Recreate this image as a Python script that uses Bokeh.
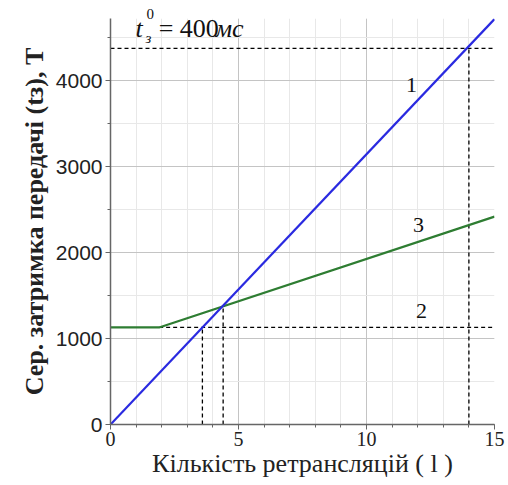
from bokeh.plotting import figure
from bokeh.models import Label, SingleIntervalTicker, Range1d
from bokeh.embed import file_html
from bokeh.resources import INLINE

# --- data ---
x_limits = [0, 15]
y_limits = [0, 4727]
line1_x = [0, 15]
line1_y = [0, 4720]
line3_x = [0, 1.9, 15]
line3_y = [1130, 1130, 2420]
line2_x = [1.9, 15]
line2_y = [1130, 1130]
t0_level = 4380          # t_з^0 = 400 мс level
t0_cross = 14.0          # crossing of line 1 with t0 level
cross12_x = 3.59         # line 1 meets line 2
cross12_y = 1130
cross13_x = 4.4          # line 1 meets line 3
cross13_y = 1385
curve_labels = ["1", "3", "2"]
curve_label_x = [11.76, 12.03, 12.15]
curve_label_y = [3958, 2317, 1327]

SERIF = "Liberation Serif"
SANS = "Liberation Sans"

p = figure(width=508, height=485, output_backend="svg", toolbar_location=None,
           x_range=Range1d(*x_limits), y_range=Range1d(*y_limits),
           min_border_left=110, min_border_right=14, min_border_top=18, min_border_bottom=61)
p.outline_line_color = None
p.background_fill_color = "white"
p.border_fill_color = "white"

# superscript "0" of t_з^0 sits above the frame: use the title slot
p.title.text = "0"
p.title.text_font = SERIF
p.title.text_font_size = "15px"
p.title.text_font_style = "normal"
p.title.text_color = "#111111"
p.title.align = "left"
p.title.offset = 36
p.title.standoff = 0

p.xaxis.ticker = SingleIntervalTicker(interval=5, num_minor_ticks=5)
p.yaxis.ticker = SingleIntervalTicker(interval=1000, num_minor_ticks=2)

for ax in (p.xaxis[0], p.yaxis[0]):
    ax.axis_line_color = "#666666"
    ax.axis_line_width = 1.5
    ax.major_tick_line_color = "#666666"
    ax.minor_tick_line_color = "#666666"
    ax.major_tick_out = 5
    ax.major_tick_in = 0
    ax.minor_tick_out = 3
    ax.minor_tick_in = 0
    ax.major_label_text_color = "#222222"
    ax.axis_label_text_font = SERIF
    ax.axis_label_text_color = "#222222"
    ax.axis_label_text_font_style = "normal"

p.xaxis.major_label_text_font = SERIF
p.xaxis.major_label_text_font_size = "20px"
p.yaxis.major_label_text_font = SANS
p.yaxis.major_label_text_font_size = "21px"

p.xaxis.axis_label = "Кількість ретрансляцій ( l )"
p.xaxis.axis_label_text_font_size = "26px"
p.xaxis.axis_label_standoff = 0
p.xaxis.major_label_standoff = 2
p.yaxis.axis_label = "Сер. затримка передачі (tз), T"
p.yaxis.axis_label_text_font_size = "26px"
p.yaxis.axis_label_text_font_style = "bold"
p.yaxis.axis_label_standoff = 4
p.yaxis.major_label_standoff = 3

p.xgrid.grid_line_color = "#c4c4c4"
p.ygrid.grid_line_color = "#c4c4c4"
p.xgrid.minor_grid_line_color = "#e8e8e8"
p.ygrid.minor_grid_line_color = "#e8e8e8"

# dashed helper lines
dash = dict(line_color="black", line_width=1.3, line_dash="4 3")
p.line(x_limits, [t0_level, t0_level], **dash)
p.line([t0_cross, t0_cross], [0, t0_level], **dash)
p.line(line2_x, line2_y, **dash)
p.line([cross12_x, cross12_x], [0, cross12_y], **dash)
p.line([cross13_x, cross13_x], [0, cross13_y], **dash)

# curves
p.line(line3_x, line3_y, line_color="#2e7d32", line_width=2.2)
p.line(line1_x, line1_y, line_color="#2a2ae0", line_width=2.2)

for t, x, y in zip(curve_labels, curve_label_x, curve_label_y):
    p.add_layout(Label(x=x, y=y, text=t, text_font=SERIF, text_font_size="22px",
                       text_align="center", text_baseline="middle", text_color="#111111"))

# t_з^0 = 400мс annotation
p.add_layout(Label(x=0.98, y=4447, text="t", text_font=SERIF, text_font_size="26px",
                   text_font_style="italic", text_color="#111111"))
p.add_layout(Label(x=1.37, y=4412, text="з", text_font=SERIF, text_font_size="15px",
                   text_font_style="italic", text_color="#111111"))
p.add_layout(Label(x=1.88, y=4447, text="= 400", text_font=SERIF, text_font_size="26px",
                   text_color="#111111"))
p.add_layout(Label(x=4.1, y=4447, text="мс", text_font=SERIF, text_font_size="26px",
                   text_font_style="italic", text_color="#111111"))

open("out.html", "w").write(file_html(p, INLINE))
